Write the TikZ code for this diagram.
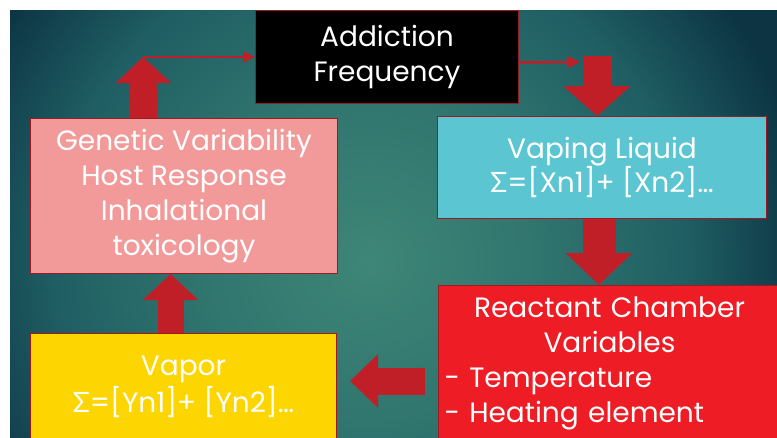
\documentclass[tikz,border=0pt]{standalone}
\usepackage{fontspec}
\setmainfont{Poppins}
\newfontfamily\grk{Lato}
\usetikzlibrary{arrows.meta}
\definecolor{bgdark}{HTML}{0C3443}
\definecolor{bgmid}{HTML}{1F5E63}
\definecolor{bglight}{HTML}{3E8677}
\definecolor{arrowred}{HTML}{C11F27}
\definecolor{edgered}{HTML}{9B1B22}
\definecolor{pinkbox}{HTML}{F29A9A}
\definecolor{cyanbox}{HTML}{5BC5D2}
\definecolor{redbox}{HTML}{EE1D25}
\definecolor{yellowbox}{HTML}{FDD500}
\pgfdeclareradialshading{bgshade}{\pgfpoint{0bp}{0bp}}{color(0bp)=(bglight); color(9bp)=(bglight!60!bgmid); color(18bp)=(bgmid); color(25bp)=(bgdark); color(50bp)=(bgdark)}
\tikzset{
  box/.style={draw=edgered, line width=1pt, text=white, anchor=north west, inner sep=0pt, align=center, font=\fontsize{28}{35}\selectfont},
  bigarrow/.style n args={3}{draw=arrowred, line width=#1, line cap=butt, -{Triangle[width=#2,length=#3]}},
  thinarrow/.style={draw=arrowred, line width=2.5pt, -{Triangle[width=11pt,length=12pt]}}
}

\begin{document}
\begin{tikzpicture}[x=1pt,y=-1pt]
    \useasboundingbox (0,0) rectangle (777,437);
    \clip (0,0) rectangle (777,437);
    \fill[white] (0,0) rectangle (777,437);
    \begin{scope}
      \clip (10,10) rectangle (777,437);
      \shade[shading=bgshade] (-70,-180) rectangle (810,700);
    \end{scope}

    \node[box, fill=black, minimum width=263pt, minimum height=93pt] (addict) at (255,10) {Addiction\\Frequency};
    \node[box, fill=pinkbox, minimum width=307pt, minimum height=155pt] (gene) at (30,118) {Genetic Variability\\Host Response\\Inhalational\\toxicology};
    \node[box, fill=cyanbox, minimum width=329pt, minimum height=102pt, font=\fontsize{28}{33}\selectfont] (liquid) at (437,116) {Vaping Liquid\\{\grk Σ}=[Xn1]+ [Xn2]…};
    \node[box, fill=redbox, minimum width=342pt, minimum height=155pt, text width=330pt, align=left] (chamber) at (438,285) {\makebox[330pt]{Reactant Chamber}\\\makebox[330pt]{Variables}\\- Temperature\\- Heating element};
    \node[box, fill=yellowbox, minimum width=306pt, minimum height=107pt, font=\fontsize{28}{37}\selectfont] (vapor) at (30,333) {Vapor\\{\grk Σ}=[Yn1]+ [Yn2]…};

    \coordinate (gtip) at (143,57);
    \coordinate (ltop) at (597,56);
    \draw[bigarrow={27pt}{54pt}{26pt}] ([xshift=-40.5pt]gene.north) -- (gtip);
    \draw[thinarrow] (gtip) -- (gtip -| addict.west);
    \draw[thinarrow] ([yshift=-5.5pt]addict.east) -- ([xshift=-17pt,yshift=-6pt]ltop);
    \draw[bigarrow={29pt}{66pt}{30pt}] (ltop) -- (ltop |- liquid.north);
    \draw[bigarrow={33pt}{65pt}{32pt}] ([xshift=-3pt]liquid.south) -- ([xshift=-3pt]liquid.south |- chamber.north);
    \draw[bigarrow={27pt}{52pt}{28pt}] ([xshift=-13pt,yshift=-18pt]chamber.west) -- ([xshift=13pt,yshift=-18pt]chamber.west -| vapor.east);
    \draw[bigarrow={26pt}{54pt}{26pt}] ([xshift=-13pt]vapor.north) -- ([xshift=-13pt]vapor.north |- gene.south);
\end{tikzpicture}
\end{document}
